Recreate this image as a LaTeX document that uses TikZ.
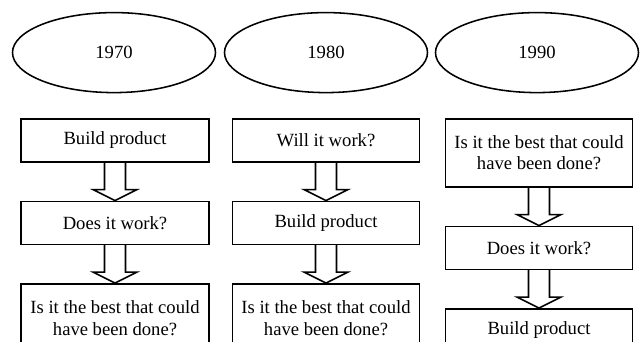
\documentclass[tikz,border=0pt]{standalone}
\usepackage{fontspec}
\setmainfont{Liberation Serif}
\usetikzlibrary{shapes.geometric, positioning}
\tikzstyle{year} = [ellipse, draw, line width=2.2pt, minimum width=10.15cm, minimum height=4cm, inner sep=0pt, font=\fontsize{26.5}{31}\selectfont]
\tikzstyle{stepbox} = [rectangle, draw, line width=2.2pt, minimum width=9.35cm, minimum height=2.15cm, align=center, font=\fontsize{26.5}{31}\selectfont]
\tikzstyle{tall} = [minimum height=3.4cm]
\tikzstyle{hollow} = [line width=2.2pt, line join=miter]
\newcommand{\blockarrow}[2]{%
\draw[hollow] ([xshift=-0.525cm]#1.south) -- ([xshift=-0.525cm,yshift=0.55cm]#2.north) -- ([xshift=-1.1cm,yshift=0.55cm]#2.north) -- (#2.north) -- ([xshift=1.1cm,yshift=0.55cm]#2.north) -- ([xshift=0.525cm,yshift=0.55cm]#2.north) -- ([xshift=0.525cm]#1.south);}

\begin{document}
\begin{tikzpicture}
\clip (0,0) rectangle (32,-17.1);

\node[year] (y70) at (5.7,-2.63) {1970};
\node[year] (y80) at (16.3,-2.63) {1980};
\node[year] (y90) at (26.85,-2.63) {1990};

\node[stepbox, minimum width=9.4cm, anchor=north] (a1) at (5.75,-5.9) {Build product};
\node[stepbox, minimum width=9.4cm, below=1.9cm of a1] (a2) {Does it work?};
\node[stepbox, tall, minimum width=9.4cm, below=1.9cm of a2] (a3) {Is it the best that could\\have been done?};

\node[stepbox, anchor=north] (b1) at (16.3,-5.9) {Will it work?};
\node[stepbox, below=1.9cm of b1] (b2) {Build product};
\node[stepbox, tall, below=1.9cm of b2] (b3) {Is it the best that could\\have been done?};

\node[stepbox, tall, anchor=north] (c1) at (26.95,-5.9) {Is it the best that could\\have been done?};
\node[stepbox, below=1.9cm of c1] (c2) {Does it work?};
\node[stepbox, below=1.9cm of c2] (c3) {Build product};

\blockarrow{a1}{a2}
\blockarrow{a2}{a3}
\blockarrow{b1}{b2}
\blockarrow{b2}{b3}
\blockarrow{c1}{c2}
\blockarrow{c2}{c3}
\end{tikzpicture}
\end{document}
